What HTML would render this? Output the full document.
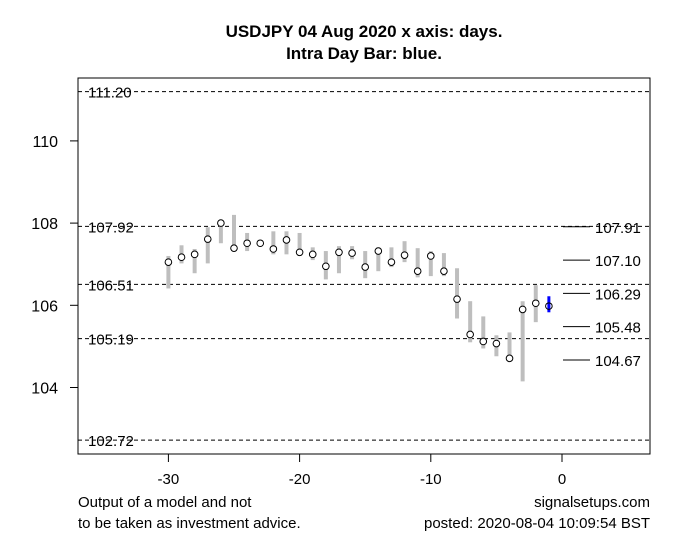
<!DOCTYPE html>
<html><head><meta charset="utf-8"><style>
body{margin:0;background:#fff}
svg text{font-family:"Liberation Sans",Arial,sans-serif}
</style></head><body>
<svg id="chart" width="691" height="552" xmlns="http://www.w3.org/2000/svg">
<rect width="691" height="552" fill="#fff"/>
<text x="364" y="37" text-anchor="middle" font-size="17" font-weight="bold">USDJPY 04 Aug 2020 x axis: days.</text>
<text x="364" y="59" text-anchor="middle" font-size="17" font-weight="bold">Intra Day Bar: blue.</text>
<g id="grid"></g><g id="bars"></g><g id="axes"></g>
<rect x="78" y="78" width="572" height="376" fill="none" stroke="#000" stroke-width="1"/>
<text x="78" y="507" font-size="15">Output of a model and not</text>
<text x="78" y="528" font-size="15">to be taken as investment advice.</text>
<text x="650" y="507" font-size="15" text-anchor="end">signalsetups.com</text>
<text x="650" y="528" font-size="15" text-anchor="end">posted: 2020-08-04 10:09:54 BST</text>
</svg>
<script>
const days=[-30,-29,-28,-27,-26,-25,-24,-23,-22,-21,-20,-19,-18,-17,-16,-15,-14,-13,-12,-11,-10,-9,-8,-7,-6,-5,-4,-3,-2];
const closes=[107.05,107.17,107.24,107.61,108.00,107.39,107.51,107.51,107.37,107.59,107.29,107.24,106.95,107.29,107.27,106.93,107.32,107.05,107.22,106.83,107.20,106.83,106.15,105.29,105.12,105.07,104.71,105.90,106.05];
const highs=[107.20,107.46,107.37,107.90,108.00,108.20,107.76,107.59,107.80,107.80,107.76,107.41,107.32,107.44,107.44,107.32,107.41,107.41,107.56,107.39,107.32,107.27,106.90,106.10,105.73,105.27,105.34,106.10,106.49];
const lows=[106.41,107.02,106.78,107.02,107.51,107.35,107.32,107.44,107.24,107.24,107.20,107.10,106.63,106.78,107.12,106.66,106.83,106.93,107.05,106.68,106.71,106.71,105.68,105.10,104.95,104.76,104.63,104.15,105.59];
const intraDay=-1, intraClose=105.98, intraHigh=106.22, intraLow=105.83;
const levels=[111.20,107.92,106.51,105.19,102.72];
const forecast=[107.91,107.10,106.29,105.48,104.67];
const yTicks=[104,106,108,110];
const xTicks=[-30,-20,-10,0];
const NS='http://www.w3.org/2000/svg';
const X=d=>562+d*13.12;
const Y=v=>305.3-(v-106)*41.1;
function mk(tag,attrs,parent,text){const e=document.createElementNS(NS,tag);for(const k in attrs)e.setAttribute(k,attrs[k]);if(text!==undefined)e.textContent=text;document.getElementById(parent).appendChild(e);return e;}
levels.forEach(v=>{
 let l=mk('line',{x1:78,x2:650,y1:Y(v),y2:Y(v),stroke:'#000','stroke-dasharray':'4,3'},'grid');
 
 
 let t=mk('text',{x:88,y:Y(v)+6,'font-size':15},'grid',v.toFixed(2));
 
 
});
forecast.forEach(v=>{
 let l=mk('line',{x1:563,x2:590,y1:Y(v),y2:Y(v),stroke:'#000'},'grid');
 
 
 let t=mk('text',{x:595,y:Y(v)+6,'font-size':15},'grid',v.toFixed(2));
 
 
});
days.forEach((d,i)=>{
 let b=mk('line',{x1:X(d),x2:X(d),y1:Y(highs[i]),y2:Y(lows[i]),stroke:'#bebebe','stroke-width':4},'bars');
 
 
 let c=mk('circle',{cx:X(d),cy:Y(closes[i]),r:3.3,fill:'#fff',stroke:'#000','stroke-width':1},'bars');
 
 
});
let ib=mk('line',{x1:X(intraDay),x2:X(intraDay),y1:Y(intraHigh),y2:Y(intraLow),stroke:'#0000ff','stroke-width':3},'bars');


let ic=mk('circle',{cx:X(intraDay),cy:Y(intraClose),r:3.3,fill:'none',stroke:'#000'},'bars');


yTicks.forEach(v=>{
 let l=mk('line',{x1:70,x2:78,y1:Y(v),y2:Y(v),stroke:'#000'},'axes');
 
 
 let t=mk('text',{x:58,y:Y(v)+6,'font-size':16,'text-anchor':'end'},'axes',String(v));
 
 
});
xTicks.forEach(v=>{
 let l=mk('line',{x1:X(v),x2:X(v),y1:454,y2:462,stroke:'#000'},'axes');
 
 
 let t=mk('text',{x:X(v),y:484,'font-size':15,'text-anchor':'middle'},'axes',String(v));
 
 
});
</script>
</body></html>
